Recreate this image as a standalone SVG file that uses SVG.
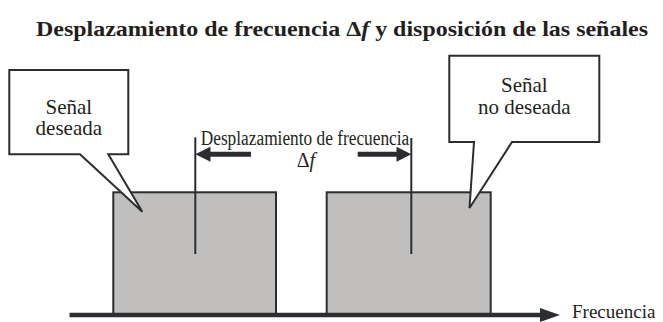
<svg xmlns="http://www.w3.org/2000/svg" width="663" height="322" viewBox="0 0 663 322">
<style>
.t{font-family:"Liberation Serif","Times New Roman",serif;fill:#231f20}
.ln{stroke:#2b2d30;stroke-width:2;fill:none}
.band{fill:#c0bfbd;stroke:#2b2d30;stroke-width:2}
.call{fill:#ffffff;stroke:#2b2d30;stroke-width:2;stroke-linejoin:miter}
.ar{fill:#2b2d30}
</style>
<rect width="663" height="322" fill="#ffffff"/>
<text class="t" x="36" y="36" font-size="22" font-weight="bold" textLength="612" lengthAdjust="spacingAndGlyphs">Desplazamiento de frecuencia Δ<tspan font-style="italic">f</tspan> y disposición de las señales</text>

<g id="signal-wanted">
<rect class="band" x="113.3" y="192.3" width="162.7" height="123"/>
</g>
<g id="signal-unwanted">
<rect class="band" x="326.7" y="192.3" width="164" height="123"/>
</g>

<g id="connectors">
<line class="ln" x1="195.3" y1="137.3" x2="195.3" y2="254"/>
<line class="ln" x1="411.3" y1="138" x2="411.3" y2="254"/>
<polygon class="ar" points="195.3,154.3 210.5,146.8 210.5,151.8 251,151.8 251,156.8 210.5,156.8 210.5,161.8"/>
<polygon class="ar" points="411.3,154.3 396.5,146.8 396.5,151.8 357.7,151.8 357.7,156.8 396.5,156.8 396.5,161.8"/>
<line x1="69.5" y1="315" x2="542" y2="315" stroke="#2b2d30" stroke-width="4.5"/>
<polygon class="ar" points="540,308 560,315 540,322"/>
</g>

<g id="callout-wanted">
<path class="call" d="M9.3,70 H128.3 V154.3 H108.3 L142.3,211.7 L80,154.3 H9.3 Z"/>
<text class="t" x="68.8" y="114" font-size="21" text-anchor="middle">Señal</text>
<text class="t" x="68.8" y="135" font-size="21" text-anchor="middle">deseada</text>
</g>

<g id="callout-unwanted">
<path class="call" d="M449.3,55.7 H599.3 V142 H512 L469.5,208 L474,142 H449.3 Z"/>
<text class="t" x="524.3" y="92.3" font-size="21" text-anchor="middle">Señal</text>
<text class="t" x="524.3" y="114" font-size="21" text-anchor="middle">no deseada</text>
</g>

<g id="label-shift">
<text class="t" x="200.7" y="145" font-size="20" textLength="208.6" lengthAdjust="spacingAndGlyphs">Desplazamiento de frecuencia</text>
<text class="t" x="296.7" y="167.3" font-size="20">Δ<tspan font-style="italic">f</tspan></text>
</g>

<g id="label-axis">
<text class="t" x="572" y="318" font-size="19">Frecuencia</text>
</g>
</svg>
